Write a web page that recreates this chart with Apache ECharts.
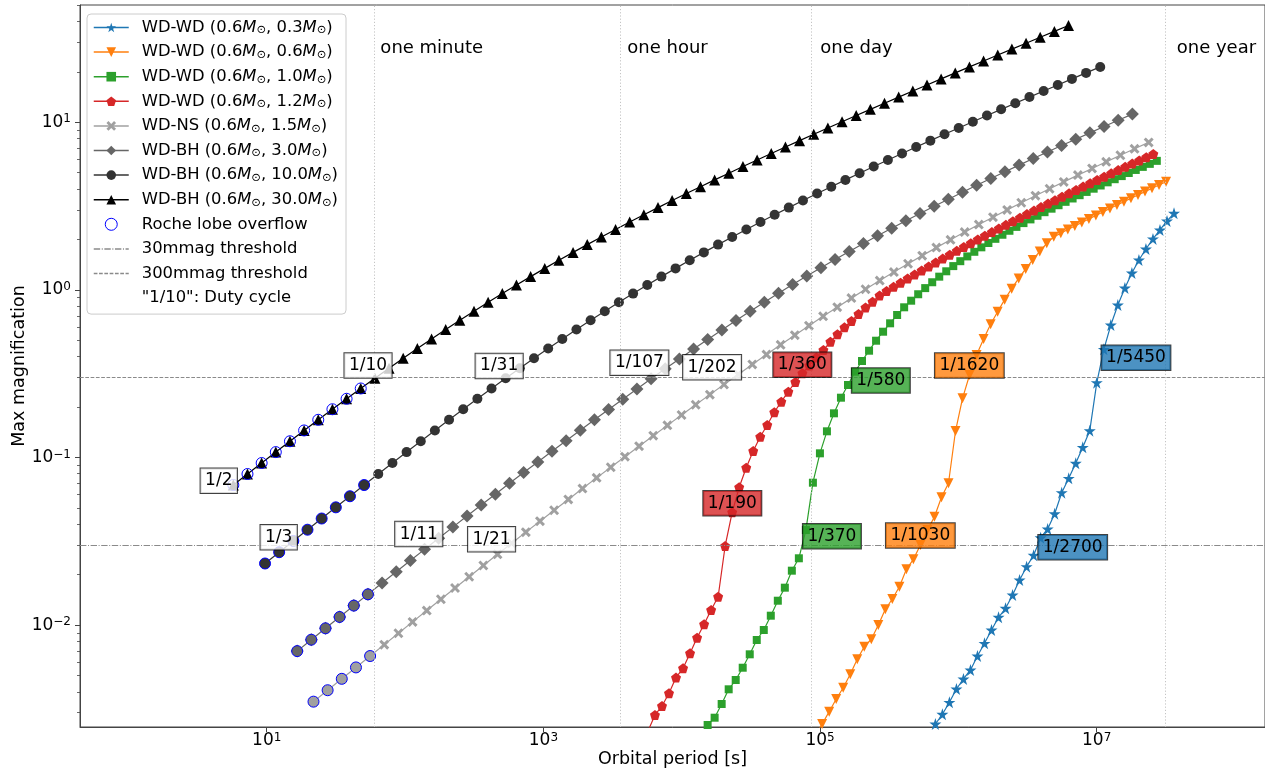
<!DOCTYPE html>
<html><head><meta charset="utf-8">
<script src="https://cdn.jsdelivr.net/npm/echarts@6/dist/echarts.min.js"></script>
<style>html,body{margin:0;padding:0;background:#fff}#c{width:1265px;height:772px}</style>
</head><body><div id="c"></div>
<script>
const FONT = 'DejaVu Sans';

// ---- data: orbital period [s] and max magnification, per system ----
const bh30P = [5.735,7.257,9.188,11.63,14.72,18.63,23.58,29.85,37.78,47.82,60.52,76.61,96.96,122.7,155.4,196.6,248.9,315.0,398.7,504.7,638.8,808.5,1023,1295,1639,2075,2626,3324,4207,5325,6740,8531,10800,13670,17300,21900,27720,35090,44410,56220,71150,90060,1.140e5,1.443e5,1.826e5,2.311e5,2.925e5,3.703e5,4.687e5,5.932e5,7.508e5,9.502e5,1.203e6,1.522e6,1.927e6,2.439e6,3.087e6,3.907e6,4.945e6,6.259e6];
const bh30M = [0.0685,0.0797,0.0927,0.1077,0.1250,0.1450,0.1678,0.1940,0.2240,0.2581,0.2969,0.3408,0.3906,0.4465,0.5094,0.5798,0.6584,0.7458,0.8430,0.9504,1.069,1.200,1.344,1.501,1.674,1.863,2.069,2.295,2.540,2.807,3.097,3.413,3.756,4.128,4.531,4.969,5.444,5.958,6.516,7.119,7.773,8.481,9.248,10.08,10.98,11.95,13.00,14.14,15.37,16.70,18.15,19.71,21.40,23.22,25.20,27.33,29.65,32.15,34.86,37.78];

const bh10P = [9.721,12.30,15.57,19.71,24.95,31.58,39.97,50.59,64.03,81.05,102.6,129.9,164.3,208.0,263.3,333.3,421.8,534.0,675.9,855.5,1083,1370,1734,2195,2779,3517,4452,5636,7133,9029,11430,14460,18310,23170,29330,37120,46980,59470,75270,95280,1.206e5,1.526e5,1.932e5,2.445e5,3.095e5,3.917e5,4.958e5,6.276e5,7.943e5,1.006e6,1.273e6,1.611e6,2.039e6,2.581e6,3.267e6,4.135e6,5.234e6,6.625e6,8.385e6,1.061e7];
const bh10M = [0.02331,0.02722,0.03178,0.03708,0.04324,0.05042,0.05873,0.0685,0.0797,0.0927,0.1077,0.1250,0.1450,0.1678,0.1940,0.2240,0.2581,0.2969,0.3408,0.3906,0.4465,0.5094,0.5798,0.6584,0.7458,0.8430,0.9504,1.069,1.200,1.344,1.501,1.674,1.863,2.069,2.295,2.540,2.807,3.097,3.413,3.756,4.128,4.531,4.969,5.444,5.958,6.516,7.119,7.773,8.481,9.248,10.08,10.98,11.95,13.00,14.14,15.37,16.70,18.15,19.71,21.40];

const bh3P = [16.60,21.00,26.59,33.65,42.60,53.91,68.23,86.37,109.3,138.4,175.1,221.6,280.6,355.1,449.6,569.0,720.1,911.6,1154,1460,1849,2339,2961,3748,4745,6005,7601,9620,12180,15410,19510,24700,31260,39560,50080,63380,80220,1.015e5,1.285e5,1.627e5,2.059e5,2.606e5,3.298e5,4.174e5,5.284e5,6.688e5,8.465e5,1.072e6,1.356e6,1.717e6,2.173e6,2.750e6,3.481e6,4.406e6,5.577e6,7.058e6,8.933e6,1.131e7,1.431e7,1.812e7];
const bh3M = [0.006994,0.008183,0.009567,0.01118,0.01307,0.01526,0.01782,0.02080,0.02428,0.02831,0.03300,0.03843,0.04475,0.05201,0.06041,0.07012,0.08127,0.09413,0.1090,0.1259,0.1454,0.1679,0.1936,0.2229,0.2565,0.2946,0.3382,0.3874,0.4434,0.5064,0.5773,0.6567,0.7455,0.8441,0.9538,1.0755,1.2092,1.3561,1.5183,1.6955,1.8893,2.1015,2.3326,2.5833,2.8575,3.1553,3.4780,3.8284,4.2093,4.6223,5.0695,5.5542,6.0792,6.6475,7.2639,7.9290,8.6524,9.4336,10.280,11.194];

const nsP = [21.78,27.56,34.88,44.16,55.89,70.74,89.54,113.3,143.5,181.6,229.8,290.9,368.2,466.1,590.0,746.7,945.0,1196,1514,1917,2426,3070,3887,4919,6227,7881,9972,12620,15980,20220,25600,32390,41010,51900,65700,83160,1.053e5,1.332e5,1.686e5,2.134e5,2.702e5,3.420e5,4.328e5,5.478e5,6.934e5,8.777e5,1.111e6,1.406e6,1.780e6,2.253e6,2.851e6,3.608e6,4.568e6,5.781e6,7.317e6,9.262e6,1.172e7,1.484e7,1.878e7,2.377e7];
const nsM = [0.003493,0.004087,0.004780,0.005591,0.006538,0.007646,0.008936,0.01045,0.01221,0.01426,0.01665,0.01944,0.02268,0.02644,0.03080,0.03586,0.04169,0.04844,0.05620,0.06527,0.07559,0.08749,0.1011,0.1168,0.1349,0.1555,0.1792,0.2063,0.2372,0.2727,0.3130,0.3591,0.4112,0.4703,0.5369,0.6116,0.6955,0.7891,0.8931,1.0085,1.1365,1.2773,1.4315,1.6012,1.7874,1.9900,2.2124,2.4534,2.7161,3.0016,3.3116,3.6493,4.0145,4.4096,4.8403,5.3052,5.8090,6.3557,6.9475,7.5872];

const rdP = [5702,6408,7203,8094,9097,10230,11490,12920,14520,16320,18340,20610,23170,26040,29270,32890,36970,41550,46700,52490,59000,66300,74530,83750,94150,1.058e5,1.189e5,1.337e5,1.502e5,1.689e5,1.898e5,2.133e5,2.397e5,2.694e5,3.028e5,3.403e5,3.825e5,4.299e5,4.832e5,5.431e5,6.103e5,6.860e5,7.710e5,8.666e5,9.741e5,1.095e6,1.231e6,1.383e6,1.554e6,1.747e6,1.963e6,2.207e6,2.480e6,2.788e6,3.133e6,3.522e6,3.958e6,4.449e6,5.000e6,5.620e6,6.317e6,7.100e6,7.978e6,8.968e6,1.008e7,1.133e7,1.273e7,1.431e7,1.608e7,1.808e7,2.032e7,2.284e7,2.567e7];
const rdM = [0.00233,0.00291,0.00329,0.00392,0.00486,0.00553,0.00679,0.00841,0.01011,0.01231,0.01477,0.02965,0.0471,0.0664,0.0869,0.1093,0.1330,0.1563,0.1861,0.2153,0.2469,0.2821,0.3180,0.3539,0.3951,0.4378,0.4907,0.5433,0.5980,0.6522,0.7180,0.7852,0.8503,0.9272,0.9848,1.0433,1.1047,1.1689,1.2361,1.3063,1.3801,1.4571,1.5378,1.6219,1.7100,1.8020,1.8981,1.9984,2.1036,2.2126,2.3266,2.4454,2.5695,2.6986,2.8330,2.9733,3.1196,3.2718,3.4305,3.5948,3.7668,3.9459,4.1328,4.3268,4.5290,4.7387,4.9577,5.1855,5.4226,5.6685,5.9251,6.1919,6.4697];

const gnP = [13700,15400,17300,19450,21860,24570,27610,31040,34880,39210,44070,49530,55670,62560,70310,79030,88820,99840,1.122e5,1.261e5,1.417e5,1.593e5,1.791e5,2.012e5,2.262e5,2.542e5,2.857e5,3.211e5,3.609e5,4.057e5,4.559e5,5.125e5,5.760e5,6.473e5,7.276e5,8.177e5,9.192e5,1.033e6,1.161e6,1.305e6,1.467e6,1.649e6,1.853e6,2.083e6,2.341e6,2.630e6,2.957e6,3.323e6,3.736e6,4.198e6,4.718e6,5.303e6,5.961e6,6.699e6,7.530e6,8.460e6,9.511e6,1.069e7,1.201e7,1.350e7,1.518e7,1.706e7,1.917e7,2.155e7,2.422e7,2.722e7];
const gnM = [0.0022,0.002535,0.002802,0.003382,0.004139,0.004703,0.005568,0.006694,0.008148,0.009350,0.01138,0.01398,0.01672,0.02112,0.02504,0.03691,0.07073,0.1059,0.1433,0.1835,0.2274,0.2708,0.3250,0.3764,0.4337,0.4975,0.5630,0.6319,0.7084,0.7873,0.8621,0.9420,1.0248,1.1107,1.1994,1.2911,1.3866,1.4835,1.5841,1.6879,1.7946,1.9042,2.0170,2.1333,2.2532,2.3766,2.5034,2.6342,2.7690,2.9084,3.0517,3.2005,3.3530,3.5107,3.6734,3.8420,4.0162,4.1962,4.3830,4.5754,4.7752,4.9822,5.1960,5.4194,5.6490,5.8872];

const orP = [92210,1.036e5,1.165e5,1.309e5,1.471e5,1.654e5,1.858e5,2.089e5,2.348e5,2.639e5,2.966e5,3.333e5,3.747e5,4.211e5,4.732e5,5.319e5,5.977e5,6.719e5,7.551e5,8.486e5,9.539e5,1.072e6,1.205e6,1.354e6,1.522e6,1.711e6,1.923e6,2.161e6,2.429e6,2.730e6,3.068e6,3.448e6,3.876e6,4.356e6,4.896e6,5.503e6,6.185e6,6.952e6,7.813e6,8.780e6,9.869e6,1.109e7,1.247e7,1.401e7,1.575e7,1.770e7,1.989e7,2.236e7,2.513e7,2.824e7,3.175e7];
const orM = [0.0022,0.00257,0.003044,0.003623,0.00423,0.005087,0.006251,0.007431,0.008229,0.01001,0.01243,0.01431,0.01695,0.02153,0.0247,0.03006,0.03688,0.04432,0.05787,0.07017,0.1439,0.2255,0.3106,0.4088,0.5093,0.6232,0.7413,0.8748,1.0168,1.1701,1.3331,1.5083,1.6950,1.8954,2.0724,2.1790,2.2899,2.4053,2.5258,2.6515,2.7815,2.9180,3.0593,3.2069,3.3596,3.5196,3.6858,3.8583,4.0379,4.2244,4.4183];

const buP = [6.069e5,6.823e5,7.668e5,8.617e5,9.687e5,1.089e6,1.224e6,1.375e6,1.546e6,1.737e6,1.953e6,2.195e6,2.467e6,2.772e6,3.116e6,3.502e6,3.937e6,4.424e6,4.972e6,5.589e6,6.281e6,7.060e6,7.934e6,8.917e6,1.002e7,1.127e7,1.266e7,1.423e7,1.600e7,1.798e7,2.021e7,2.271e7,2.553e7,2.869e7,3.225e7,3.624e7];
const buM = [0.0022,0.00257,0.002937,0.003462,0.004157,0.00477,0.005397,0.00654,0.007786,0.00935,0.01113,0.0126,0.01512,0.01859,0.02231,0.02609,0.03322,0.03745,0.0462,0.06166,0.0751,0.09236,0.115,0.1445,0.2795,0.442,0.6174,0.8126,1.0264,1.261,1.508,1.754,2.0156,2.2773,2.5773,2.8642];

// number of leading points flagged as Roche lobe overflow
const rloCount = {bh30: 10, bh10: 8, bh3: 6, ns: 5};

// thresholds (magnification) and reference periods (s)
const thresholds = [0.03, 0.3];
const timeMarks = [[60, 'one minute'], [3600, 'one hour'], [86400, 'one day'], [3.156e7, 'one year']];
const timeTextM = 27.8;

// duty-cycle annotations: [period, magnification, text, system]
const dutyLabels = [
  [4.50, 0.0726, '1/2', 'bh30'], [54.0, 0.354, '1/10', 'bh30'],
  [12.2, 0.0334, '1/3', 'bh10'], [479, 0.352, '1/31', 'bh10'],
  [125.6, 0.0349, '1/11', 'bh3'], [4943, 0.3678, '1/107', 'bh3'],
  [422, 0.03254, '1/21', 'ns'], [16590, 0.3452, '1/202', 'ns'],
  [23220, 0.0533, '1/190', 'wd12'], [74470, 0.3573, '1/360', 'wd12'],
  [121900, 0.0339, '1/370', 'wd10'], [275200, 0.288, '1/580', 'wd10'],
  [531200, 0.03424, '1/1030', 'wd06'], [1.201e6, 0.3539, '1/1620', 'wd06'],
  [6.71e6, 0.02916, '1/2700', 'wd03'], [1.924e7, 0.3935, '1/5450', 'wd03']
];

const xTicks = [10, 1e3, 1e5, 1e7];
const yTicks = [0.01, 0.1, 1, 10];
const yMinor = [0.003,0.004,0.005,0.006,0.007,0.008,0.009,0.02,0.03,0.04,0.05,0.06,0.07,0.08,0.09,0.2,0.3,0.4,0.5,0.6,0.7,0.8,0.9,2,3,4,5,6,7,8,9,20,30,40,50];

// ---- styling ----
const STAR = 'path://M50,2 L61.2,36.2 L97.6,36.2 L68.2,57.6 L79.4,91.8 L50,70.6 L20.6,91.8 L31.8,57.6 L2.4,36.2 L38.8,36.2 Z';
const PENT = 'path://M50,2 L97.6,36.6 L79.4,92.6 L20.6,92.6 L2.4,36.6 Z';
const XF = 'path://M22,2 L50,30 L78,2 L98,22 L70,50 L98,78 L78,98 L50,70 L22,98 L2,78 L30,50 L2,22 Z';

const SYS = {
  wd03: {name: 'WD-WD (0.6M⊙, 0.3M⊙)', P: buP, M: buM, color: '#1f77b4', symbol: STAR, size: 12, fill: 'rgba(31,119,180,0.8)'},
  wd06: {name: 'WD-WD (0.6M⊙, 0.6M⊙)', P: orP, M: orM, color: '#ff7f0e', symbol: 'triangle', rot: 180, size: 10, fill: 'rgba(255,127,14,0.8)'},
  wd10: {name: 'WD-WD (0.6M⊙, 1.0M⊙)', P: gnP, M: gnM, color: '#2ca02c', symbol: 'rect', size: 8, fill: 'rgba(44,160,44,0.8)'},
  wd12: {name: 'WD-WD (0.6M⊙, 1.2M⊙)', P: rdP, M: rdM, color: '#d62728', symbol: PENT, size: 10, fill: 'rgba(214,39,40,0.8)'},
  ns:   {name: 'WD-NS (0.6M⊙, 1.5M⊙)', P: nsP, M: nsM, color: '#a0a0a0', symbol: XF, size: 10, fill: 'rgba(255,255,255,0.8)', rloFill: '#a0a0a0'},
  bh3:  {name: 'WD-BH (0.6M⊙, 3.0M⊙)', P: bh3P, M: bh3M, color: '#666666', symbol: 'diamond', size: 13, fill: 'rgba(255,255,255,0.8)', rloFill: '#666666'},
  bh10: {name: 'WD-BH (0.6M⊙, 10.0M⊙)', P: bh10P, M: bh10M, color: '#333333', symbol: 'circle', size: 10, fill: 'rgba(255,255,255,0.8)', rloFill: '#333333'},
  bh30: {name: 'WD-BH (0.6M⊙, 30.0M⊙)', P: bh30P, M: bh30M, color: '#000000', symbol: 'triangle', size: 11, fill: 'rgba(255,255,255,0.8)', rloFill: 'rgba(0,0,0,0)'}
};
const ORDER = ['wd03', 'wd06', 'wd10', 'wd12', 'ns', 'bh3', 'bh10', 'bh30'];

function pairs(P, M) { return P.map((p, i) => [p, M[i]]); }
function sci(v) {
  const e = Math.round(Math.log10(v));
  return '{b|10}{s|' + (e < 0 ? '\u2212' + (-e) : e) + '}';
}
const tickRich = {
  b: {fontSize: 17, fontFamily: FONT, color: '#000'},
  s: {fontSize: 12, fontFamily: FONT, color: '#000', verticalAlign: 'top', padding: [0, 0, 6, 0]}
};

const series = [];
ORDER.forEach((k, idx) => {
  const s = SYS[k];
  series.push({
    type: 'line', name: s.name, data: pairs(s.P, s.M),
    symbol: s.symbol, symbolSize: s.size, symbolRotate: s.rot || 0, showAllSymbol: true,
    lineStyle: {color: s.color, width: 1.2}, itemStyle: {color: s.color, opacity: 1},
    z: 3, silent: true, clip: true, animation: false
  });
});

// Roche lobe overflow markers
const rloData = [];
Object.keys(rloCount).forEach(k => {
  const s = SYS[k];
  pairs(s.P, s.M).slice(0, rloCount[k]).forEach(d => rloData.push({value: d, itemStyle: {color: s.rloFill}}));
});
series.push({
  type: 'scatter', name: 'Roche lobe overflow', data: rloData,
  symbol: 'circle', symbolSize: 11,
  itemStyle: {color: 'rgba(0,0,0,0)', borderColor: '#0000ff', borderWidth: 1, opacity: 1},
  z: 4, silent: true
});

const DASHDOT = [6.4, 1.6, 1, 1.6];
const DASH = [3.7, 1.6];
const TH_COLOR = '#8a8a8a';
[['30mmag threshold', thresholds[0], DASHDOT], ['300mmag threshold', thresholds[1], DASH]].forEach(t => {
  series.push({
    type: 'line', name: t[0], data: [], symbol: 'none',
    lineStyle: {color: TH_COLOR, width: 1.2, type: t[2]},
    markLine: {silent: true, symbol: ['none', 'none'], label: {show: false},
      lineStyle: {color: TH_COLOR, width: 1.2, type: t[2]},
      data: [{yAxis: t[1]}]},
    z: 1
  });
});
series.push({type: 'line', name: '"1/10": Duty cycle', data: [], symbol: 'none', lineStyle: {color: 'rgba(0,0,0,0)'}});

// time reference lines and texts
const timeGap = [6, 7, 9, 11];
series.push({
  type: 'scatter', name: 'time', symbolSize: 0, silent: true, z: 2, itemStyle: {opacity: 1, color: '#000'},
  data: timeMarks.map((t, i) => ({value: [t[0], timeTextM], text: t[1], label: {distance: timeGap[i]}})),
  label: {show: true, position: 'right', formatter: p => p.data.text,
    fontFamily: FONT, fontSize: 18, color: '#000'},
  markLine: {silent: true, symbol: ['none', 'none'], label: {show: false},
    lineStyle: {color: '#c4c4c4', width: 1, type: [1.2, 2]},
    data: timeMarks.map(t => ({xAxis: t[0]}))}
});

// duty cycle boxes
series.push({
  type: 'scatter', name: 'duty', silent: true, z: 10, symbolSize: 0,
  itemStyle: {opacity: 1, color: '#000'},
  data: dutyLabels.map(d => ({
    value: [d[0], d[1]], text: d[2],
    label: {backgroundColor: SYS[d[3]].fill}
  })),
  label: {show: true, position: 'inside', formatter: p => p.data.text,
    fontFamily: FONT, fontSize: 17, color: '#000', lineHeight: 19,
    padding: [3, 4.5, 2.5, 4.5], borderColor: 'rgba(0,0,0,0.75)', borderWidth: 1}
});

const legendNames = ORDER.map(k => SYS[k].name);
const option = {
  animation: false,
  backgroundColor: '#fff',
  textStyle: {fontFamily: FONT},
  grid: {left: 80, top: 5, width: 1185, height: 722, containLabel: false, outerBoundsMode: 'none',
    show: true, borderColor: '#444', borderWidth: 1, backgroundColor: 'rgba(0,0,0,0)'},
  xAxis: {
    type: 'log', logBase: 10, min: 0.4467, max: 1.648e8,
    name: 'Orbital period [s]', nameLocation: 'middle', nameGap: 23, nameMoveOverlap: false,
    nameTextStyle: {fontFamily: FONT, fontSize: 17.5, color: '#000'},
    axisLine: {show: true, lineStyle: {color: '#444', width: 1}},
    axisTick: {show: true, length: 5, customValues: xTicks, lineStyle: {color: '#444'}},
    axisLabel: {customValues: xTicks, formatter: sci, rich: tickRich, margin: 5},
    splitLine: {show: false}, minorTick: {show: false}
  },
  yAxis: [{
    type: 'log', logBase: 10, min: 0.002466, max: 50.1,
    name: 'Max magnification', nameLocation: 'middle', nameGap: 52, nameMoveOverlap: false,
    nameTextStyle: {fontFamily: FONT, fontSize: 17.5, color: '#000'},
    axisLine: {show: true, lineStyle: {color: '#444', width: 1}},
    axisTick: {show: true, length: 5, customValues: yTicks, lineStyle: {color: '#444'}},
    axisLabel: {customValues: yTicks, formatter: sci, rich: tickRich, margin: 9},
    splitLine: {show: false}
  }, {
    type: 'log', logBase: 10, min: 0.002466, max: 50.1, position: 'left', show: true,
    axisLine: {show: false}, splitLine: {show: false},
    axisLabel: {show: true, customValues: yMinor, formatter: () => ''},
    axisTick: {show: true, length: 3, customValues: yMinor, lineStyle: {color: '#444', width: 0.8}}
  }],
  legend: {
    orient: 'vertical', left: 87, top: 14,
    itemWidth: 35, itemHeight: 12, itemGap: 6.6,
    padding: [4.5, 8, 7, 6],
    backgroundColor: 'rgba(255,255,255,0.8)', borderColor: '#cccccc', borderWidth: 1, borderRadius: 4,
    selectedMode: false,
    lineStyle: {width: 1.5},
    textStyle: {fontFamily: FONT, fontSize: 16.4, color: '#000', lineHeight: 18, padding: [0, 0, 0, 8],
      rich: {
        i: {fontFamily: FONT, fontSize: 16.4, fontStyle: 'italic', color: '#000'},
        s: {fontFamily: FONT, fontSize: 11.5, color: '#000', verticalAlign: 'bottom', padding: [6, 0, 0, 0]}
      }},
    formatter: name => name.replace(/M⊙/g, '{i|M}{s|⊙}'),
    data: legendNames.concat([
      {name: 'Roche lobe overflow', itemStyle: {borderWidth: 1, color: 'rgba(0,0,0,0)'}},
      {name: '30mmag threshold', itemStyle: {opacity: 0}},
      {name: '300mmag threshold', itemStyle: {opacity: 0}},
      {name: '"1/10": Duty cycle', itemStyle: {opacity: 0}, lineStyle: {opacity: 0}}
    ])
  },
  series: series
};

const chart = echarts.init(document.getElementById('c'), null, {renderer: 'canvas'});
chart.setOption(option);
</script></body></html>
